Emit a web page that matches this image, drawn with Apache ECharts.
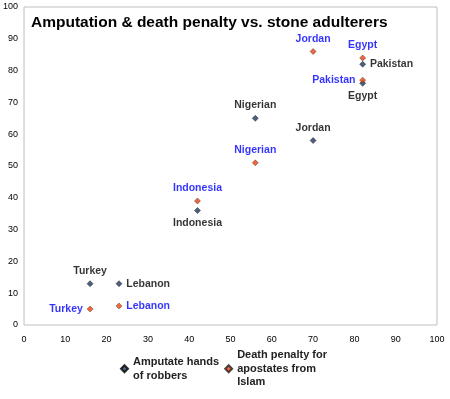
<!DOCTYPE html>
<html><head><meta charset="utf-8">
<script src="https://cdn.jsdelivr.net/npm/echarts@6/dist/echarts.min.js"></script>
<style>html,body{margin:0;padding:0;background:#fff}#c{width:450px;height:399px}</style>
</head><body><div id="c"></div>
<script>
const countries = ['Turkey','Lebanon','Indonesia','Nigerian','Jordan','Egypt','Pakistan'];
const amputateX = [16, 23, 42, 56, 70, 82, 82];
const amputateY = [13, 13, 36, 65, 58, 76, 82];
const amputatePos = ['top','right','bottom','top','top','bottom','right'];
const apostateX = [16, 23, 42, 56, 70, 82, 82];
const apostateY = [5, 6, 39, 51, 86, 84, 77];
const apostatePos = ['left','right','top','top','top','top','left'];
const seriesNames = ['Amputate hands\nof robbers', 'Death penalty for\napostates from\nIslam'];
const titleText = 'Amputation & death penalty vs. stone adulterers';

function build(xs, ys, pos){
  return countries.map((c,i)=>({name:c, value:[xs[i], ys[i]], label:{position:pos[i]}}));
}
const chart = echarts.init(document.getElementById('c'));
const lbl = {show:true, formatter:'{b}', fontFamily:'Arial, Liberation Sans, sans-serif', fontSize:10.5, fontWeight:'bold', distance:4};
chart.setOption({
  animation:false,
  title:{text:titleText, left:26, top:10, textStyle:{fontFamily:'Arial, Liberation Sans, sans-serif', fontSize:15.5, fontWeight:'bold', color:'#000'}},
  grid:{left:23, right:13, top:7, bottom:74, show:true, borderColor:'#BFBFBF', borderWidth:1},
  xAxis:{type:'value', min:0, max:100, interval:10, axisLine:{show:false}, axisTick:{show:false}, splitLine:{show:false},
    axisLabel:{fontFamily:'Arial, Liberation Sans, sans-serif', fontSize:9, color:'#000', margin:10}},
  yAxis:{type:'value', min:0, max:100, interval:10, axisLine:{show:false}, axisTick:{show:false}, splitLine:{show:false},
    axisLabel:{fontFamily:'Arial, Liberation Sans, sans-serif', fontSize:9, color:'#000', margin:6}},
  legend:{bottom:5, left:115, itemGap:5, itemWidth:7, itemHeight:7, icon:'diamond',
    textStyle:{fontFamily:'Arial, Liberation Sans, sans-serif', fontSize:11, fontWeight:'bold', color:'#222', lineHeight:13.5},
    data:seriesNames},
  series:[
    {name:seriesNames[0], type:'scatter', symbol:'diamond', symbolSize:6,
     itemStyle:{color:'#1F3A60', borderColor:'#000', borderWidth:0.5},
     label:Object.assign({}, lbl, {color:'#000'}),
     data:build(amputateX, amputateY, amputatePos)},
    {name:seriesNames[1], type:'scatter', symbol:'diamond', symbolSize:6,
     itemStyle:{color:'#F0400A', borderColor:'#222', borderWidth:0.5},
     label:Object.assign({}, lbl, {color:'#0000FF'}),
     data:build(apostateX, apostateY, apostatePos)}
  ]
});
</script></body></html>
